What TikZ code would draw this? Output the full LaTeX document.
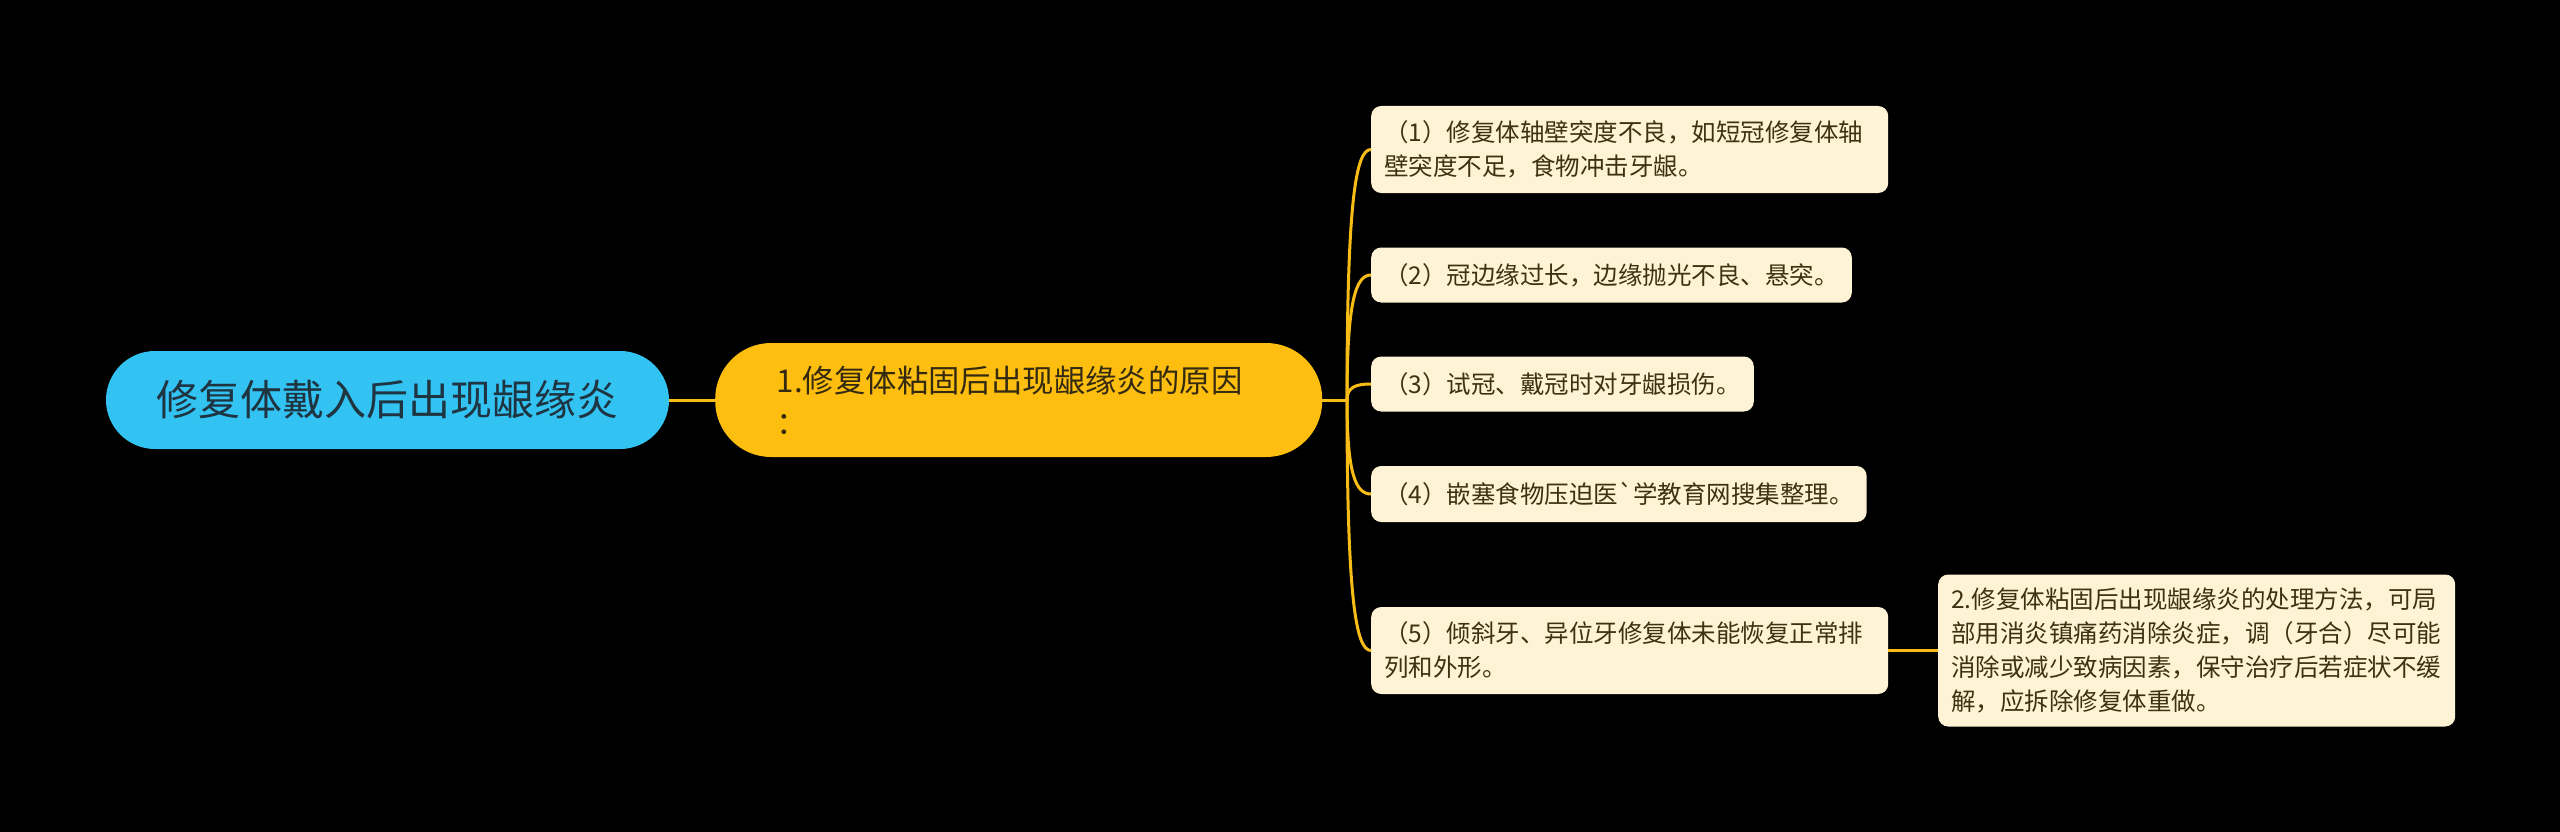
\documentclass[tikz,border=0pt]{standalone}
\usepackage{fontspec}
\newfontfamily\cjk{Noto Sans CJK SC}[Ligatures=TeXOff]
\definecolor{rootfill}{HTML}{33C3F3}
\definecolor{roottext}{HTML}{1F3441}
\definecolor{mainfill}{HTML}{FDBE10}
\definecolor{maintext}{HTML}{332A10}
\definecolor{leaffill}{HTML}{FEF3D5}
\definecolor{leaftext}{HTML}{3F3211}
\definecolor{linkc}{HTML}{F7BC16}
\begin{document}
\begin{tikzpicture}[x=1pt,y=-1pt,
  rootbox/.style={fill=rootfill, text=roottext, rounded corners=49pt, minimum width=563pt, minimum height=98pt, inner sep=0pt, font=\cjk\fontsize{42}{50}\selectfont},
  mainbox/.style={fill=mainfill, text=maintext, rounded corners=56pt, minimum height=114pt, text width=484pt, inner xsep=61.5pt, inner ysep=0pt, align=left, font=\cjk\fontsize{31.4}{42}\selectfont},
  leafbox/.style={fill=leaffill, text=leaftext, rounded corners=10pt, inner xsep=13pt, inner ysep=0pt, align=left, font=\cjk\fontsize{24.5}{34}\selectfont},
  linkline/.style={draw=linkc, line width=3pt}
]
\fill[black] (0,0) rectangle (2560,832);
\useasboundingbox (0,0) rectangle (2560,832);

\node[rootbox] (root) at (387.5,400) {修复体戴入后出现龈缘炎};
\node[mainbox, anchor=west] (main) at (715,400) {1.修复体粘固后出现龈缘炎的原因\\：};

\node[leafbox, anchor=west, minimum height=87pt, text width=491pt] (l1) at (1371,149.5) {（1）修复体轴壁突度不良，如短冠修复体轴\\壁突度不足，食物冲击牙龈。};
\node[leafbox, anchor=west, minimum height=55pt] (l2) at (1371,275) {（2）冠边缘过长，边缘抛光不良、悬突。};
\node[leafbox, anchor=west, minimum height=55pt] (l3) at (1371,384) {（3）试冠、戴冠时对牙龈损伤。};
\node[leafbox, anchor=west, minimum height=56pt] (l4) at (1371,494) {（4）嵌塞食物压迫医`学教育网搜集整理。};
\node[leafbox, anchor=west, minimum height=87pt, text width=491pt] (l5) at (1371,650.5) {（5）倾斜牙、异位牙修复体未能恢复正常排\\列和外形。};
\node[leafbox, anchor=west, minimum height=152pt, text width=491pt] (l6) at (1938,650.5) {2.修复体粘固后出现龈缘炎的处理方法，可局\\部用消炎镇痛药消除炎症，调（牙合）尽可能\\消除或减少致病因素，保守治疗后若症状不缓\\解，应拆除修复体重做。};

\coordinate (hub) at (1347,400);
\draw[linkline] (root.east) -- (main.west);
\draw[linkline] (main.east) -- (hub);
\draw[linkline] (hub) .. controls +(0,-201) and +(-15,0) .. (l1.west);
\draw[linkline] (hub) .. controls +(0,-100) and +(-15,0) .. (l2.west);
\draw[linkline] (hub) .. controls +(0,-13) and +(-15,0) .. (l3.west);
\draw[linkline] (hub) .. controls +(0,75) and +(-15,0) .. (l4.west);
\draw[linkline] (hub) .. controls +(0,200) and +(-15,0) .. (l5.west);
\draw[linkline] (l5.east) -- (l6.west);
\end{tikzpicture}
\end{document}
